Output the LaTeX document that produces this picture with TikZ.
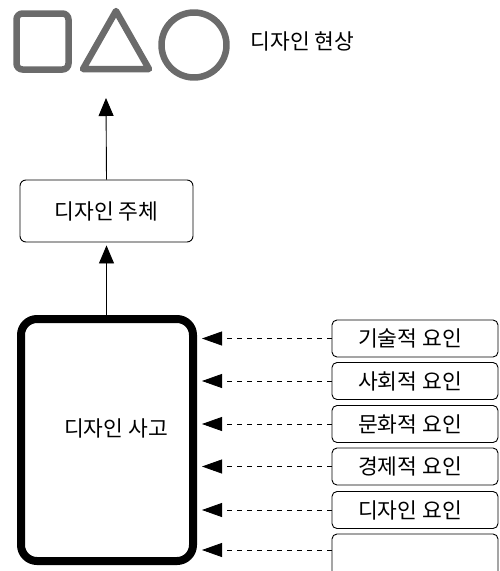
\documentclass[tikz,border=0pt]{standalone}
\usepackage{fontspec}
\setmainfont{Noto Sans CJK KR}
\usetikzlibrary{arrows.meta}
\begin{document}
\begin{tikzpicture}[x=1pt,y=-1pt,
  every node/.style={font=\fontsize{21.5pt}{23pt}\selectfont},
  shapeline/.style={draw=black!58, line width=6.5pt, line join=round},
  subjbox/.style={draw, line width=0.9pt, rounded corners=6pt, minimum width=173pt, minimum height=62pt, inner sep=0pt},
  thinkbox/.style={draw, line width=8pt, rounded corners=16pt, minimum width=172pt, minimum height=242pt, inner sep=0pt},
  factorbox/.style={draw, line width=0.9pt, rounded corners=5pt, minimum width=166pt, minimum height=37pt, inner sep=0pt},
  uparrow/.style={draw, line width=0.9pt, -{Triangle[length=18pt,width=15pt]}},
  inarrow/.style={draw, line width=0.8pt, dash pattern=on 5pt off 5pt, -{Triangle[length=20pt,width=14pt]}, shorten >=5pt}
]
\useasboundingbox (0,0) rectangle (500,571);
\clip (0,0) rectangle (500,571);

% phenomenon shapes
\draw[shapeline, rounded corners=6pt] (16.5,13.5) rectangle (68.5,69.5);
\draw[shapeline] (116,11) -- (149,69) -- (83,69) -- cycle;
\draw[shapeline] (194,45) circle (32.5);
\node[anchor=west] (phen) at (247,41) {디자인 현상};
\coordinate (phentip) at (106,98);

% subject
\node[subjbox] (subj) at (106.5,211) {디자인 주체};

% thinking
\node[thinkbox] (think) at (107,440) {};
\node (thinklabel) at (116,428) {디자인 사고};

% factors
\node[factorbox] (f1) at (415,338.5) {\hspace{-10pt}기술적 요인};
\node[factorbox] (f2) at (415,381) {\hspace{-10pt}사회적 요인};
\node[factorbox] (f3) at (415,424) {\hspace{-10pt}문화적 요인};
\node[factorbox] (f4) at (415,466.5) {\hspace{-10pt}경제적 요인};
\node[factorbox] (f5) at (415,510) {\hspace{-10pt}디자인 요인};
\node[factorbox, minimum height=45pt] (f6) at (415,556.5) {};

% connectors
\draw[uparrow, shorten >=3pt] (think.north -| subj.south) -- (subj.south);
\draw[uparrow] (subj.north) -- (phentip);
\foreach \f in {f1,f2,f3,f4,f5}{
  \draw[inarrow] (\f.west) -- (\f.west -| think.east);
}
\draw[inarrow] ([yshift=6.5pt]f6.west) -- ([yshift=6.5pt]f6.west -| think.east);
\end{tikzpicture}
\end{document}
